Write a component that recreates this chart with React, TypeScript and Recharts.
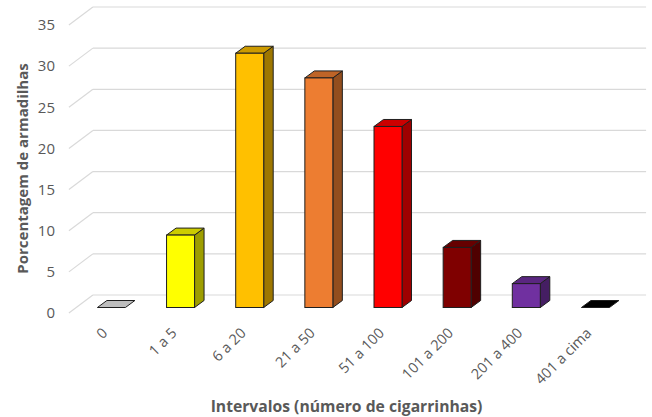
import { BarChart, Bar, XAxis, YAxis, CartesianGrid } from 'recharts'

const categories = ['0', '1 a 5', '6 a 20', '21 a 50', '51 a 100', '101 a 200', '201 a 400', '401 a cima']
const percentages = [0, 8.8, 30.9, 27.9, 22.0, 7.3, 2.9, 0]
const yTicks = [0, 5, 10, 15, 20, 25, 30, 35]
const barColors = ['#EEEEEE', '#FFFF00', '#FFC000', '#ED7D31', '#FF0000', '#7F0000', '#7030A0', '#000000']

const data = categories.map((name, i) => ({ name, value: percentages[i] }))

const FONT = '"Open Sans", sans-serif'
const TEXT = '#595959'
// depth of each 3d column and of the whole floor
const DX = 9.5
const DY = 7
const WALL_DX = 16.5
const WALL_DY = 12.5
const FLOOR_DX = 7.5
const FLOOR_DY = 5.5

function shade(hex: string, k: number) {
  const n = parseInt(hex.slice(1), 16)
  const r = Math.round(((n >> 16) & 255) * k)
  const g = Math.round(((n >> 8) & 255) * k)
  const b = Math.round((n & 255) * k)
  return `rgb(${r},${g},${b})`
}

function Column3D(props: any) {
  const { x, y, width, height, index } = props
  const c = barColors[index]
  const bottom = y + height
  const stroke = '#1f1f1f'
  const top = `${x},${y} ${x + DX},${y - DY} ${x + width + DX},${y - DY} ${x + width},${y}`
  if (height <= 0.5) {
    return <polygon points={top} fill={shade(c, 0.8)} stroke={stroke} strokeWidth={1} />
  }
  const side = `${x + width},${y} ${x + width + DX},${y - DY} ${x + width + DX},${bottom - DY} ${x + width},${bottom}`
  return (
    <g>
      <polygon points={side} fill={shade(c, 0.62)} stroke={stroke} strokeWidth={1} strokeLinejoin="round" />
      <polygon points={top} fill={shade(c, 0.8)} stroke={stroke} strokeWidth={1} strokeLinejoin="round" />
      <rect x={x} y={y} width={width} height={height} fill={c} stroke={stroke} strokeWidth={1} />
    </g>
  )
}

function GridLine(p: any) {
  const { x1, x2, y1 } = p
  return (
    <g key={p.key ?? `g-${y1}`}>
      <line x1={x1 - FLOOR_DX} y1={y1 + FLOOR_DY} x2={x1 + WALL_DX} y2={y1 - WALL_DY} stroke="#D9D9D9" strokeWidth={1.2} />
      <line x1={x1 + WALL_DX} y1={y1 - WALL_DY} x2={x2 + WALL_DX} y2={y1 - WALL_DY} stroke="#D9D9D9" strokeWidth={1.2} />
    </g>
  )
}

function YTick(p: any) {
  return (
    <text x={55} y={p.y + FLOOR_DY} dy="0.35em" textAnchor="end" fill={TEXT} fontSize={15} fontFamily={FONT}>
      {p.payload.value}
    </text>
  )
}

function XTick(p: any) {
  return (
    <g transform={`translate(${p.x - 2.5},334)`}>
      <text textAnchor="end" transform="rotate(-45)" fill={TEXT} fontSize={14.5} fontFamily={FONT}>
        {p.payload.value}
      </text>
    </g>
  )
}

export default function App() {
  return (
    <div style={{ position: 'absolute', left: 0, top: 0, background: '#fff' }}>
      <BarChart
        width={652}
        height={417}
        data={data}
        margin={{ top: 19.5, right: 22.4, bottom: 4.5, left: 16.4 }}
        barSize={28}
      >
        <CartesianGrid vertical={false} horizontal={GridLine} />
        <XAxis
          dataKey="name"
          axisLine={false}
          tickLine={false}
          interval={0}
          height={105}
          tick={XTick}
          label={{
            content: ({ viewBox }: any) => (
              <text
                x={viewBox.x + viewBox.width / 2 - 6.5}
                y={412}
                textAnchor="middle"
                fill={TEXT}
                fontSize={15.7}
                fontWeight="bold"
                fontFamily={FONT}
              >
                Intervalos (número de cigarrinhas)
              </text>
            ),
          }}
        />
        <YAxis
          domain={[0, 35]}
          ticks={yTicks}
          axisLine={false}
          tickLine={false}
          width={60}
          tick={YTick}
          label={{
            content: ({ viewBox }: any) => (
              <text
                transform={`translate(27.5,${viewBox.y + viewBox.height / 2 + 5}) rotate(-90)`}
                textAnchor="middle"
                fill={TEXT}
                fontSize={15}
                fontWeight="bold"
                fontFamily={FONT}
              >
                Porcentagem de armadilhas
              </text>
            ),
          }}
        />
        <Bar dataKey="value" shape={Column3D} isAnimationActive={false} />
      </BarChart>
    </div>
  )
}
